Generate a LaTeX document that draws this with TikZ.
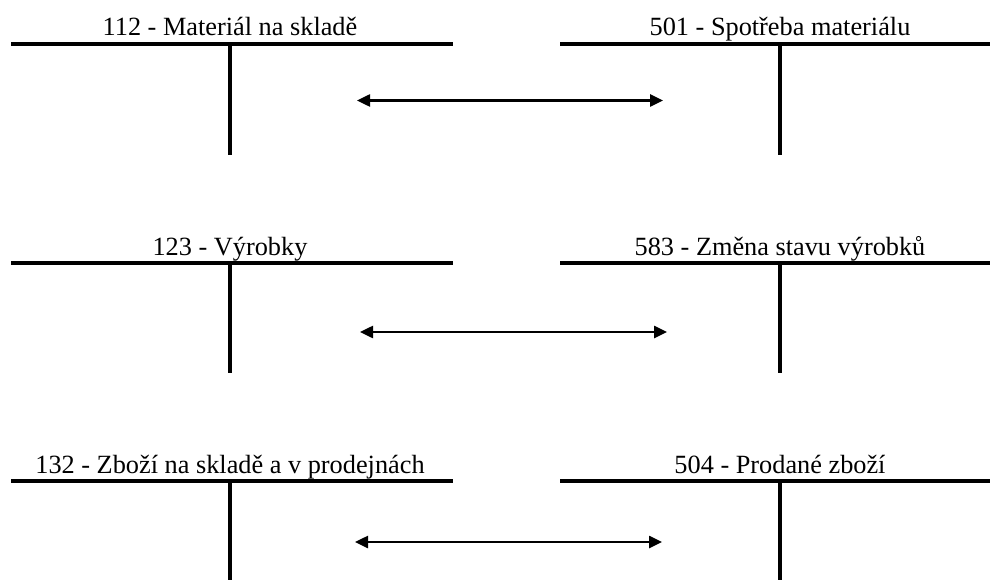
\documentclass[tikz,border=0pt]{standalone}
\usepackage{fontspec}
\setmainfont{Liberation Serif}
\usetikzlibrary{arrows.meta}

% T-account: #1 name, #2 left end, #3 stem x, #4 right end, #5 top y, #6 bottom y, #7 title
\newcommand{\tacct}[7]{%
  \node[acctitle] (#1) at (#3,#5-8) {#7};
  \draw[tline] (#2,#5) -- (#4,#5);
  \draw[tline] (#3,#5) -- (#3,#6);
}

\begin{document}
\begin{tikzpicture}[x=1pt,y=-1pt,
  tline/.style={line width=4pt},
  acctitle/.style={font=\fontsize{26.3}{30}\selectfont, anchor=base, inner sep=0pt},
  flow/.style={line width=2.5pt,
    {Triangle[length=13pt,width=12pt]}-{Triangle[length=13pt,width=12pt]}}]
\useasboundingbox (0,0) rectangle (990,580);

% materials
\tacct{a112}{11}{230}{453}{44}{155}{112 - Materiál na skladě}
\tacct{a501}{560}{780}{990}{44}{155}{501 - Spotřeba materiálu}
\coordinate (f1l) at (357,100.5);
\coordinate (f1r) at (663,100.5);
\draw[flow] (f1l) -- (f1r);

% products
\tacct{a123}{11}{230}{453}{263}{373}{123 - Výrobky}
\tacct{a583}{560}{780}{990}{263}{373}{583 - Změna stavu výrobků}
\coordinate (f2l) at (360,332);
\coordinate (f2r) at (667,332);
\draw[flow] (f2l) -- (f2r);

% goods
\tacct{a132}{11}{230}{453}{481}{580}{132 - Zboží na skladě a v prodejnách}
\tacct{a504}{560}{780}{990}{481}{580}{504 - Prodané zboží}
\coordinate (f3l) at (355,542);
\coordinate (f3r) at (662,542);
\draw[flow] (f3l) -- (f3r);
\end{tikzpicture}
\end{document}
